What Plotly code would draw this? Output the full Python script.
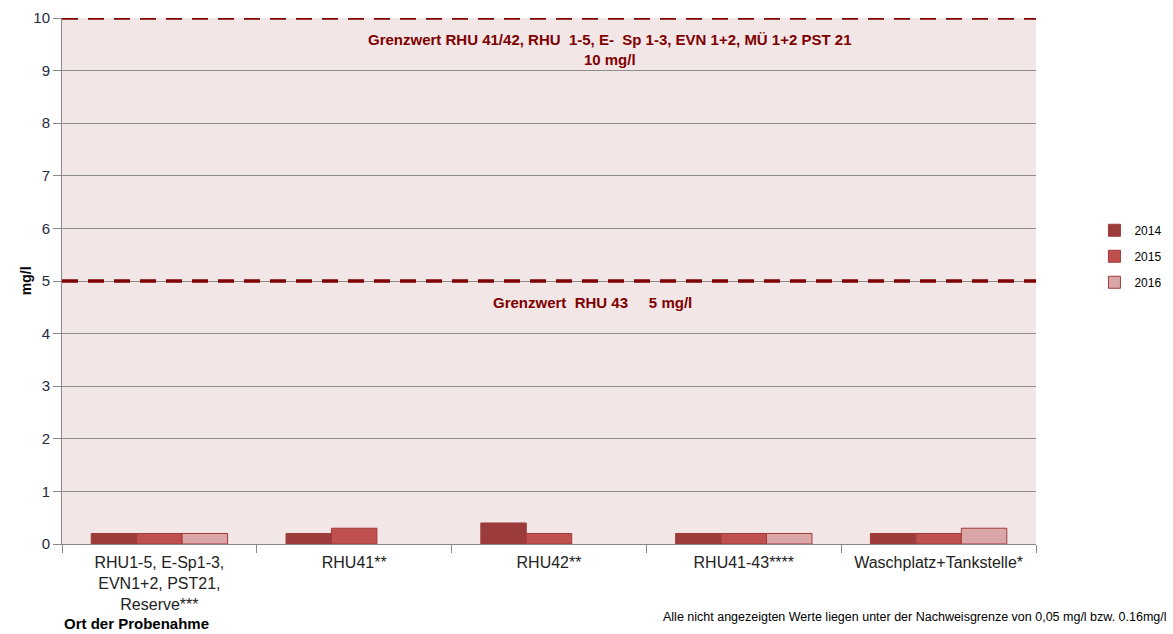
import plotly.graph_objects as go

# Data
categories = [
    "RHU1-5, E-Sp1-3,<br>EVN1+2, PST21,<br>Reserve***",
    "RHU41**",
    "RHU42**",
    "RHU41-43****",
    "Waschplatz+Tankstelle*",
]
years = ["2014", "2015", "2016"]
values_2014 = [0.2, 0.2, 0.4, 0.2, 0.2]
values_2015 = [0.2, 0.3, 0.2, 0.2, 0.2]
values_2016 = [0.2, None, None, 0.2, 0.3]
limit_values = [10, 5]
limit_labels = [
    "Grenzwert RHU 41/42, RHU  1-5, E-  Sp 1-3, EVN 1+2, MÜ 1+2 PST 21<br>10 mg/l",
    "Grenzwert  RHU 43     5 mg/l",
]

colors = ["#9b3b3b", "#c0504d", "#d9a7a7"]
series = [values_2014, values_2015, values_2016]

fig = go.Figure()
for year, vals, col in zip(years, series, colors):
    fig.add_trace(go.Bar(
        x=categories, y=vals, name=year, legendgroup=year,
        marker=dict(color=col, line=dict(color="#a33a3a", width=1)),
    ))

# limit lines
for v in limit_values:
    fig.add_shape(type="line", xref="paper", x0=0, x1=1, yref="y", y0=v, y1=v,
                  line=dict(color="#800000", width=3.5, dash="16px,10px"), layer="above")

fig.add_annotation(text="<b>" + limit_labels[0] + "</b>", xref="paper", x=0.563, yref="y", y=9.8,
                   yanchor="top", showarrow=False,
                   font=dict(family="Liberation Sans, Arial", size=15, color="#7f0000"))
fig.add_annotation(text="<b>" + limit_labels[1] + "</b>", xref="paper", x=0.545, yref="y", y=4.8,
                   yanchor="top", showarrow=False,
                   font=dict(family="Liberation Sans, Arial", size=15, color="#7f0000"))

# axis titles / footnote
fig.add_annotation(text="<b>mg/l</b>", xref="paper", x=-0.047, yref="paper", y=0.5,
                   textangle=-90, showarrow=False,
                   font=dict(family="Liberation Sans, Arial", size=14, color="#000000"))
fig.add_annotation(text="<b>Ort der Probenahme</b>", xref="paper", x=0.0, xanchor="left",
                   yref="paper", y=-0.151, yanchor="middle", showarrow=False,
                   font=dict(family="Liberation Sans, Arial", size=15, color="#000000"))
fig.add_annotation(text="Alle nicht angezeigten Werte liegen unter der Nachweisgrenze von 0,05 mg/l bzw. 0.16mg/l",
                   xref="paper", x=1.137, xanchor="right", yref="paper", y=-0.139, yanchor="middle",
                   showarrow=False,
                   font=dict(family="Liberation Sans, Arial", size=12.5, color="#000000"))

fig.update_layout(
    width=1173, height=634,
    margin=dict(l=62, r=137, t=18, b=90, autoexpand=False),
    paper_bgcolor="white",
    plot_bgcolor="#f2e6e6",
    barmode="group",
    bargap=0.3,
    bargroupgap=0,
    font=dict(family="Liberation Sans, Arial", size=14, color="#333333"),
    legend=dict(x=1.06, xanchor="left", y=0.547, yanchor="middle",
                font=dict(size=12, color="#000000"), tracegroupgap=7,
                itemwidth=30, traceorder="grouped"),
    xaxis=dict(showline=True, linecolor="#888888", ticks="outside", tickcolor="#888888",
               ticklen=8, tickson="boundaries", showgrid=False, automargin=False,
               ticklabelstandoff=4,
               tickfont=dict(size=16, color="#222222")),
    yaxis=dict(range=[0, 10], dtick=1, showline=True, linecolor="#888888",
               ticks="outside", tickcolor="#888888", ticklen=8, automargin=False,
               gridcolor="#8c8c8c", gridwidth=1, zeroline=False,
               tickfont=dict(size=15, color="#1f2a44")),
)

# drop the default page margin so the figure starts at the top-left corner
fig.write_html("out.html", config={"displayModeBar": False},
               post_script="document.body.style.margin='0';")
